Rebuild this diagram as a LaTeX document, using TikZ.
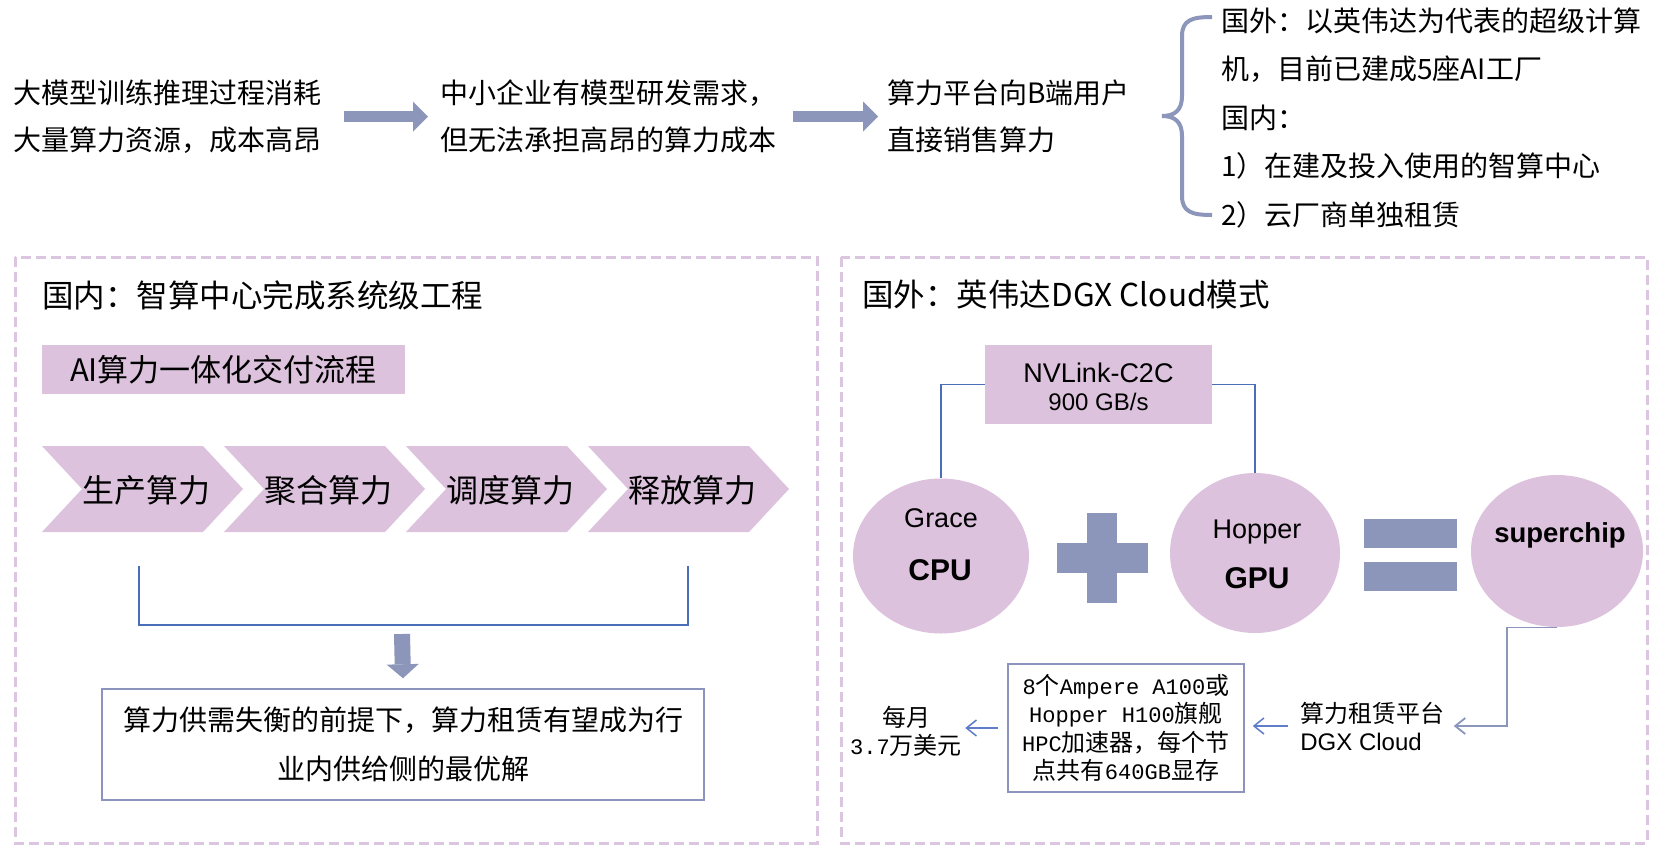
\documentclass[tikz,border=0pt]{standalone}
\usepackage{fontspec}
\setmainfont{Noto Sans CJK SC}
\newfontfamily\arialf{Liberation Sans}
\newfontfamily\monof{Liberation Mono}[Scale=0.92]
\usetikzlibrary{arrows.meta,shapes.geometric}
\definecolor{pinkf}{RGB}{221,194,221}
\definecolor{dashc}{RGB}{219,197,224}
\definecolor{slate}{RGB}{140,150,186}
\definecolor{blueln}{RGB}{75,110,185}
\definecolor{boxbd}{RGB}{140,148,190}
\definecolor{arrblue}{RGB}{95,125,200}
\begin{document}
\begin{tikzpicture}[x=0.5pt,y=-0.5pt,
  txt/.style={inner sep=0pt,text=black},
  toptxt/.style={txt,anchor=west,align=left,font=\fontsize{14}{23.5}\selectfont},
  titletxt/.style={txt,anchor=west,font=\fontsize{15.75}{15.75}\selectfont},
  blockarrow/.style={draw=slate,line width=5.5pt,-{Triangle[length=7.5pt,width=15pt,line width=0pt]}},
  blockarrowv/.style={draw=slate,line width=8pt,-{Triangle[length=7pt,width=16pt,line width=0pt]}},
  dashedbox/.style={draw=dashc,line width=1.5pt,dash pattern=on 5pt off 2.5pt},
  thinblue/.style={draw=blueln,line width=0.75pt},
  smallarrow/.style={draw=arrblue,line width=0.75pt,-{Straight Barb[length=5pt,width=8pt]}},
  circ/.style={ellipse,fill=pinkf,inner sep=0pt},
  ariallbl/.style={txt,anchor=base,font=\arialf\fontsize{13.5}{13.5}\selectfont},
  arialbold/.style={txt,anchor=base,font=\arialf\bfseries\fontsize{15}{15}\selectfont},
  framebox/.style={draw=boxbd,line width=0.75pt,inner sep=0pt,align=center}
]
\fill[white] (0,0) rectangle (1660,847);
\useasboundingbox (0,0) rectangle (1660,847);

% ---------- top row ----------
\node[toptxt] (t1) at (13,116.5) {大模型训练推理过程消耗\\大量算力资源，成本高昂};
\node[toptxt] (t2) at (440,116.5) {中小企业有模型研发需求，\\但无法承担高昂的算力成本};
\node[toptxt] (t3) at (887,116.5) {算力平台向B端用户\\直接销售算力};
\draw[blockarrow] ([xshift=11pt]t1.east) -- ([xshift=-6pt]t2.west);
\draw[blockarrow] ([xshift=8pt]t2.east) -- ([xshift=-4.5pt]t3.west);

\draw[slate,line width=2pt] (1212,17) .. controls (1192,17) and (1182,20) .. (1182,36)
  -- (1182,96) .. controls (1182,110) and (1175,116) .. (1162,116)
  .. controls (1175,116) and (1182,122) .. (1182,136)
  -- (1182,196) .. controls (1182,212) and (1192,215) .. (1212,215);

\node[txt,anchor=west,align=left,font=\fontsize{14}{24.25}\selectfont] (rt) at (1221,118)
  {国外：以英伟达为代表的超级计算\\机，目前已建成5座AI工厂\\国内：\\1）在建及投入使用的智算中心\\2）云厂商单独租赁};

% ---------- left panel ----------
\draw[dashedbox] (15,257) rectangle (817,843);
\node[titletxt] (lt) at (42,295) {国内：智算中心完成系统级工程};
\node[fill=pinkf,minimum width=181.5pt,minimum height=24.5pt,inner sep=0pt,
  font=\fontsize{15.5}{15.5}\selectfont] (ai) at (223.5,369.5) {AI算力一体化交付流程};

\foreach \i/\t in {0/生产算力,1/聚合算力,2/调度算力,3/释放算力} {
  \pgfmathsetmacro\L{42+182*\i}
  \fill[pinkf] (\L,446) -- (\L+161,446) -- (\L+201,489) -- (\L+161,532) -- (\L,532) -- (\L+40,489) -- cycle;
  \node[txt,font=\fontsize{16}{16}\selectfont] (c\i) at (\L+104,490) {\t};
}
\draw[thinblue] (139,566) -- (139,625) -- (688,625) -- (688,566);
\node[framebox,minimum width=301pt,minimum height=55.5pt,font=\fontsize{14}{24.5}\selectfont]
  (bot) at (403,744.5) {算力供需失衡的前提下，算力租赁有望成为行\\业内供给侧的最优解};
\coordinate (darr) at (402,634);
\draw[blockarrowv] (darr) -- ([yshift=5pt]bot.north);

% ---------- right panel ----------
\draw[dashedbox] (841,257) rectangle (1647,843);
\node[titletxt] (rtitle) at (862,295) {国外：英伟达DGX Cloud模式};

\node[fill=pinkf,minimum width=113.5pt,minimum height=39.5pt,inner sep=0pt] (nv) at (1098.5,384.5) {};
\node[txt,anchor=base,font=\arialf\fontsize{13.5}{13.5}\selectfont] (nvt1) at (1098.5,382) {NVLink-C2C};
\node[txt,anchor=base,font=\arialf\fontsize{12}{12}\selectfont] (nvt2) at (1098.5,410) {900 GB/s};

\node[circ,minimum width=88pt,minimum height=77.5pt] (grace) at (941,556) {};
\node[circ,minimum width=85pt,minimum height=80pt] (hopper) at (1255,553) {};
\node[circ,minimum width=86pt,minimum height=76pt] (sc) at (1557,551) {};

\node[ariallbl] (gracet) at (941,527) {Grace};
\node[arialbold] (cput) at (940,580) {CPU};
\node[ariallbl] (hoppert) at (1257,538) {Hopper};
\node[arialbold] (gput) at (1257,588) {GPU};
\node[txt,anchor=base,font=\arialf\bfseries\fontsize{13.75}{13.75}\selectfont] (sct) at (1560,542) {superchip};

\draw[thinblue] (nv.west) -| (grace.north);
\draw[thinblue] (nv.east) -| (hopper.north);

\fill[slate] (1087,513) rectangle (1117,603);
\fill[slate] (1057,543) rectangle (1148,573);
\fill[slate] (1364,519) rectangle (1457,548);
\fill[slate] (1364,562) rectangle (1457,591);

\node[txt,anchor=west,align=left,font=\fontsize{12}{14}\selectfont] (rent) at (1300,726)
  {算力租赁平台\\{\arialf DGX Cloud}};
\node[framebox,minimum width=118pt,minimum height=64pt,font=\fontsize{12}{14.25}\selectfont]
  (spec) at (1126,728)
  {{\monof 8}个{\monof Ampere A100}或\\{\monof Hopper H100}旗舰\\{\monof HPC}加速器，每个节\\点共有{\monof 640GB}显存};
\node[txt,align=center,font=\fontsize{12}{14}\selectfont] (month) at (906,731) {每月\\{\monof 3.7}万美元};

\draw[slate,line width=0.9pt,-{Straight Barb[length=5pt,width=8pt]}]
  (sc.south) -- ++(-50,0) |- ([xshift=4.5pt]rent.east);
\draw[smallarrow] ([xshift=-6pt]rent.west) -- ([xshift=4pt]spec.east |- rent.west);
\draw[smallarrow] ([xshift=-4.5pt]spec.west) -- ([xshift=1.5pt]month.east |- spec.west);
\end{tikzpicture}
\end{document}
